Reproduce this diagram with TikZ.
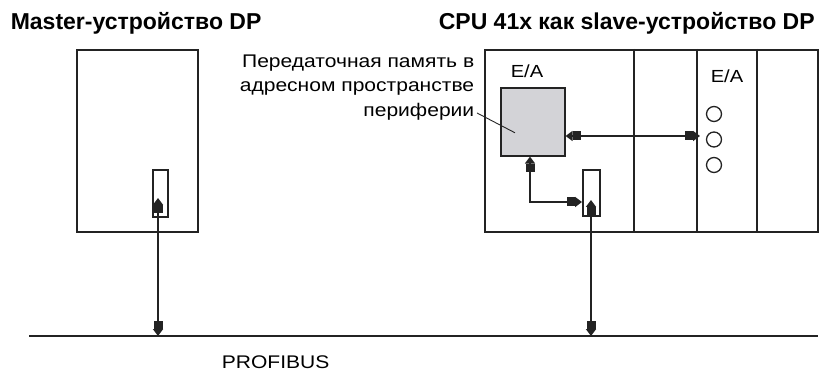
\documentclass[tikz,border=0pt]{standalone}
\usepackage{fontspec}
\setmainfont{Liberation Sans}
\newfontfamily\widefont{Liberation Sans}[FakeStretch=1.15]
\usetikzlibrary{arrows.meta}
\definecolor{ink}{RGB}{35,35,35}
\definecolor{memgray}{RGB}{211,211,215}
\tikzset{plug/.tip={Square[length=8pt,width=9pt]Triangle[length=7pt,width=10pt]}}
\begin{document}
\begin{tikzpicture}[x=1pt,y=-1pt,line width=1.6pt,draw=ink,>=plug,
  box/.style={draw,anchor=north west,inner sep=0pt},
  lnk/.style={<->},
  title/.style={inner sep=0pt,anchor=base west,font=\bfseries\fontsize{23}{26}\selectfont},
  lbl/.style={inner sep=0pt,font=\widefont\fontsize{18.3}{24.5}\selectfont}]
\useasboundingbox (0,0) rectangle (832,371);
\node[title] (tmaster) at (10,29.5) {Master-устройство DP};
\node[title] (tslave) at (438,29.5) {CPU 41x как slave-устройство DP};
% master
\node[box,minimum width=121pt,minimum height=182pt] (master) at (76,49) {};
\node[box,minimum width=15pt,minimum height=47pt] (mport) at (152,169) {};
% slave rack
\node[box,minimum width=333pt,minimum height=182pt] (rack) at (484,49) {};
\foreach \x in {634,697,757} \draw (\x,49) -- (\x,231);
\node[box,fill=memgray,minimum width=64pt,minimum height=68pt] (mem) at (500,87) {};
\node[box,minimum width=17pt,minimum height=46pt] (sport) at (582,169) {};
\foreach \y [count=\i] in {114,139.5,165} \node[draw,circle,line width=1.3pt,minimum size=15pt,inner sep=0pt] (io\i) at (714,\y) {};
\node[lbl,anchor=base,font=\widefont\fontsize{17.5}{20}\selectfont] (ea1) at (527,78) {E/A};
\node[lbl,anchor=base,font=\widefont\fontsize{17.5}{20}\selectfont] (ea2) at (727,83) {E/A};
\node[lbl,align=right,anchor=north east] (memtxt) at (475,54) {Передаточная память в\\адресном пространстве\\периферии};
\draw[line width=0.9pt] ([shift={(2,-8)}]memtxt.south east) -- ([shift={(15,11)}]mem.west);
% bus
\coordinate (busL) at (29,336); \coordinate (busR) at (818,336);
\draw (busL) -- (busR);
\node[lbl,anchor=base west] (bustxt) at (221,368) {PROFIBUS};
% links
\coordinate (mtip) at (158,198); \draw[lnk] (mtip) -- (mtip |- busL);
\coordinate (stip) at (591,200); \draw[lnk] (stip) -- (stip |- busL);
\coordinate (ioend) at (700,136); \draw[lnk] (mem.east |- ioend) -- (ioend);
\coordinate (mbend) at (530,202); \draw[lnk] (mem.south -| mbend) -- (mbend) -- (sport.west |- mbend);
\end{tikzpicture}
\end{document}
